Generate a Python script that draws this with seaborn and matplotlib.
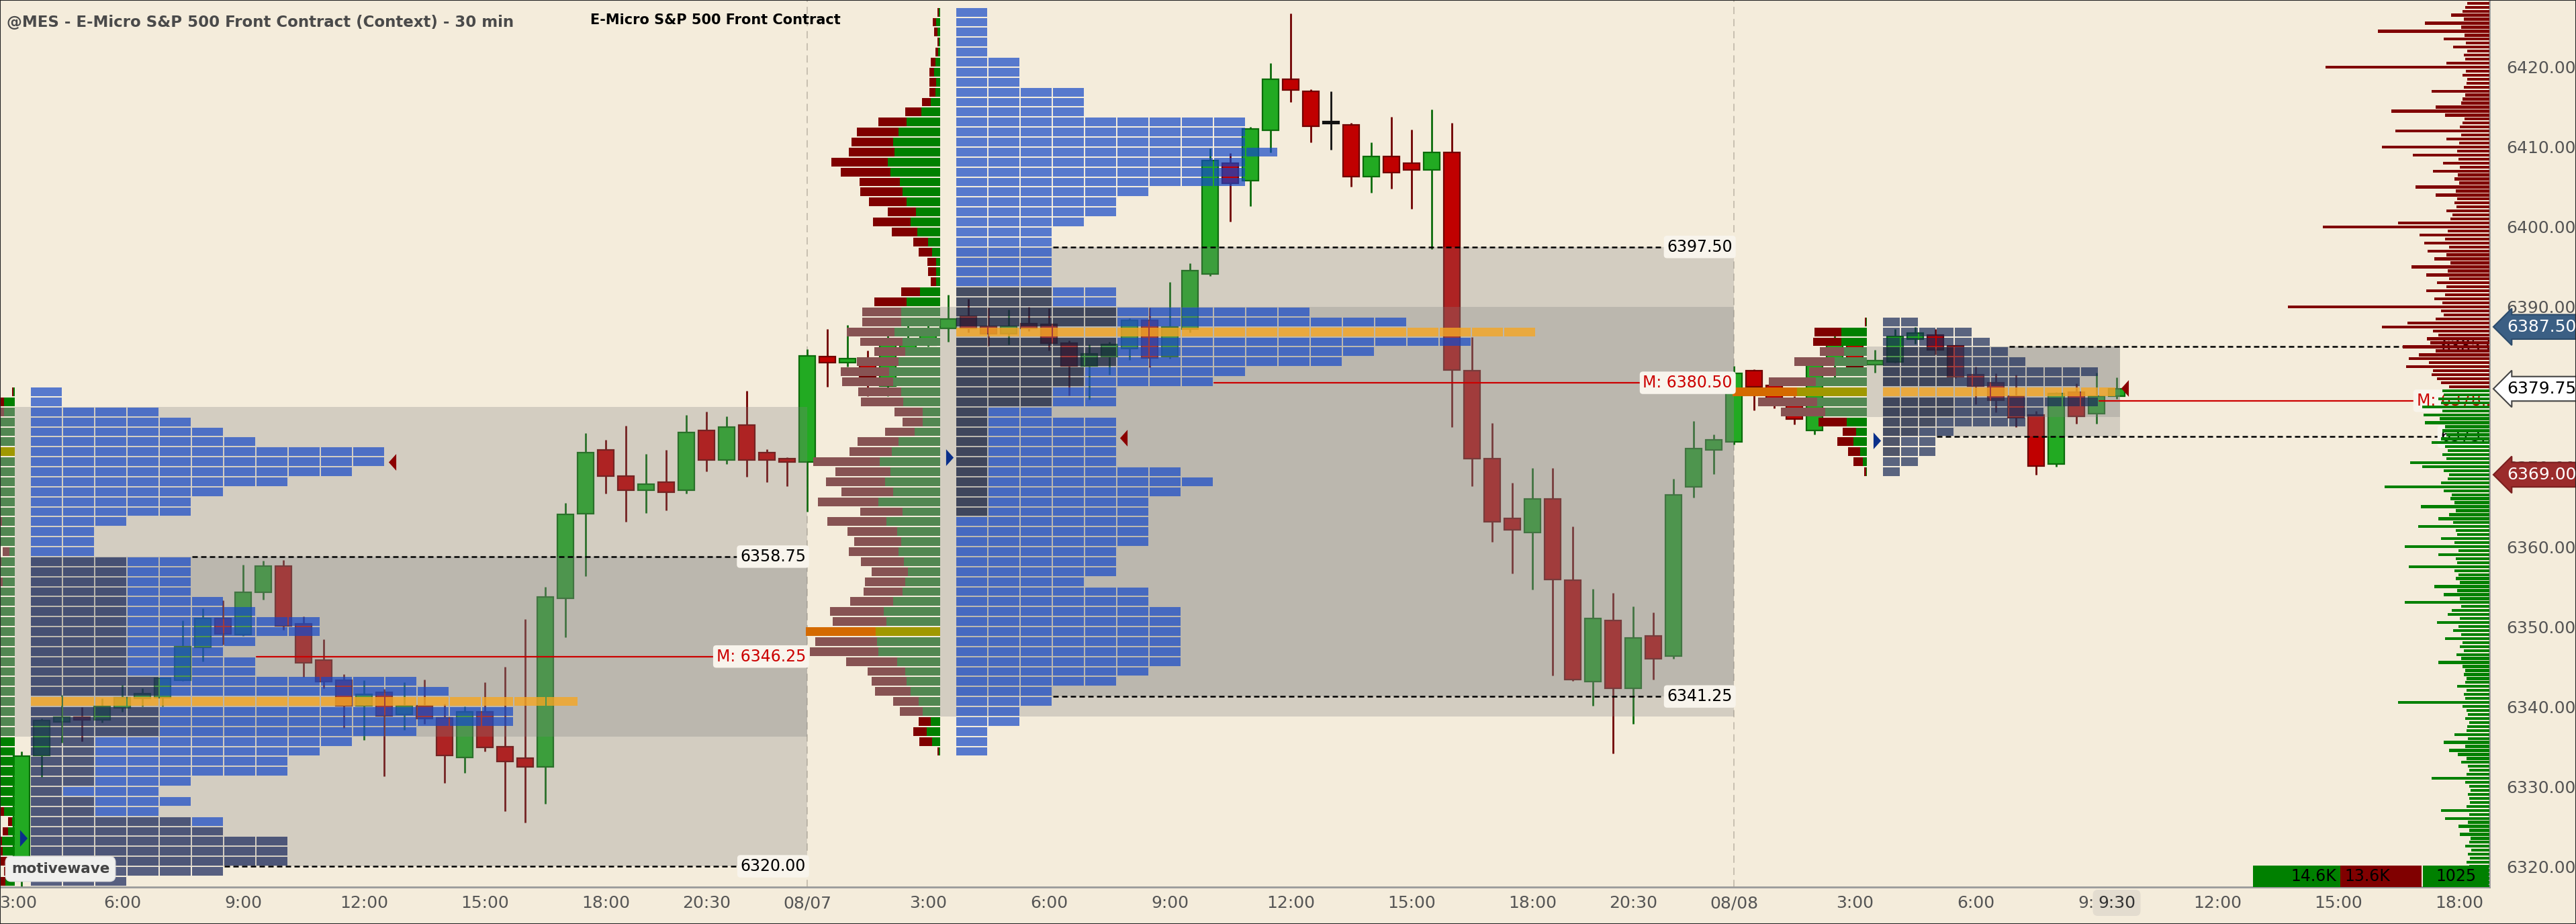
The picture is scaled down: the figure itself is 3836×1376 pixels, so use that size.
import numpy as np
import pandas as pd
import seaborn as sns
import matplotlib.pyplot as plt
from matplotlib.colors import to_rgba
from matplotlib.path import Path
from matplotlib.patches import Rectangle
from matplotlib.transforms import blended_transform_factory, ScaledTranslation

# ---------------- data ----------------
# 30 min candles, bar 0 = 08/07 00:00, first visible bar = -39
first_bar = -39
opens = [6318.5, 6333.9, 6338.1, 6338.7, 6338.3, 6339.8, 6341.0, 6341.1, 6343.3, 6347.4,
         6351.0, 6349.0, 6354.3, 6357.6, 6350.3, 6345.8, 6343.3, 6340.1, 6341.8, 6339.0,
         6340.1, 6338.6, 6333.6, 6339.3, 6335.0, 6333.5, 6332.4, 6353.5, 6364.1, 6372.1,
         6368.8, 6367.1, 6368.1, 6367.1, 6374.5, 6370.8, 6375.2, 6371.8, 6371.0,
         6370.6, 6383.8, 6383.0, 6382.8, 6380.1, 6384.8, 6385.2, 6387.3, 6388.8, 6387.6,
         6386.6, 6387.9, 6387.8, 6385.5, 6382.6, 6383.8, 6384.8, 6388.3, 6383.8, 6387.2,
         6394.1, 6408.0, 6405.8, 6412.1, 6418.5, 6417.0, 6412.9, 6412.8, 6406.3, 6408.8,
         6408.0, 6407.1, 6409.3, 6382.0, 6371.0, 6363.5, 6361.8, 6366.0, 6355.8, 6343.1,
         6350.8, 6342.3, 6348.8, 6346.3, 6367.5, 6372.1, 6373.1, 6382.0, 6380.2, 6378.3,
         6374.5, 6382.8, 6385.2, 6382.8, 6383.1, 6386.0, 6386.5, 6385.1, 6381.5, 6380.5,
         6378.8, 6376.5, 6370.3, 6379.3, 6376.6, 6378.8]
highs = [6334.4, 6338.5, 6341.4, 6339.9, 6341.0, 6342.7, 6342.3, 6343.6, 6350.8, 6352.3,
         6353.3, 6357.7, 6358.2, 6358.3, 6351.3, 6348.4, 6344.0, 6343.3, 6342.2, 6343.0,
         6343.4, 6340.3, 6340.0, 6343.0, 6345.0, 6350.9, 6355.0, 6365.5, 6374.2, 6373.4,
         6375.1, 6371.6, 6372.1, 6376.5, 6376.9, 6376.3, 6379.5, 6372.2, 6371.2,
         6384.7, 6387.2, 6387.7, 6384.5, 6386.6, 6387.8, 6387.8, 6391.5, 6391.0, 6389.9,
         6389.7, 6390.0, 6389.8, 6385.8, 6385.3, 6385.6, 6388.6, 6389.9, 6393.1, 6395.5,
         6409.8, 6409.2, 6412.5, 6420.5, 6426.7, 6417.2, 6417.0, 6413.0, 6410.6, 6413.8,
         6412.2, 6414.7, 6413.0, 6386.2, 6375.5, 6368.0, 6369.8, 6369.8, 6362.5, 6354.7,
         6354.2, 6352.5, 6351.8, 6368.5, 6375.7, 6374.0, 6382.6, 6382.2, 6380.8, 6378.8,
         6383.0, 6386.5, 6386.0, 6384.6, 6387.2, 6387.5, 6387.2, 6385.2, 6382.5, 6381.7,
         6381.5, 6377.0, 6379.3, 6380.4, 6381.8, 6381.2]
lows = [6317.0, 6331.2, 6335.5, 6335.6, 6338.0, 6339.3, 6340.0, 6340.0, 6343.2, 6345.6,
        6347.7, 6348.8, 6353.4, 6349.6, 6343.7, 6342.3, 6337.3, 6335.8, 6331.3, 6337.1,
        6337.8, 6330.4, 6331.7, 6334.4, 6326.9, 6325.5, 6327.8, 6348.7, 6356.3, 6366.6,
        6363.1, 6364.2, 6364.5, 6366.6, 6369.4, 6370.3, 6368.7, 6368.1, 6367.6,
        6364.4, 6380.0, 6382.5, 6378.8, 6378.8, 6384.5, 6385.0, 6385.6, 6386.8, 6385.1,
        6385.3, 6387.0, 6384.5, 6378.9, 6378.4, 6381.5, 6383.4, 6382.4, 6383.5, 6386.8,
        6393.9, 6400.7, 6402.6, 6409.3, 6415.6, 6410.6, 6409.7, 6405.0, 6404.3, 6404.8,
        6402.3, 6397.2, 6375.0, 6367.6, 6360.6, 6356.6, 6354.6, 6343.9, 6343.2, 6340.1,
        6334.1, 6337.8, 6343.4, 6346.0, 6366.1, 6369.1, 6372.8, 6377.1, 6377.3, 6375.3,
        6374.0, 6381.0, 6381.6, 6381.8, 6383.0, 6385.4, 6384.0, 6381.1, 6377.8, 6376.8,
        6375.0, 6369.0, 6370.0, 6375.4, 6375.4, 6378.5]
closes = [6333.8, 6338.25, 6338.7, 6338.3, 6340.0, 6341.1, 6341.6, 6343.5, 6347.5, 6351.0,
          6349.1, 6354.3, 6357.6, 6350.1, 6345.5, 6343.1, 6340.1, 6341.5, 6338.8, 6340.1,
          6338.5, 6333.9, 6339.3, 6334.9, 6333.1, 6332.4, 6353.7, 6364.0, 6371.8, 6368.8,
          6367.1, 6367.8, 6366.8, 6374.3, 6370.8, 6375.0, 6370.8, 6370.8, 6370.6,
          6383.9, 6383.0, 6383.5, 6381.3, 6385.3, 6385.3, 6386.5, 6388.5, 6387.3, 6386.6,
          6387.6, 6387.3, 6385.5, 6382.6, 6384.1, 6385.3, 6388.3, 6383.6, 6387.5, 6394.5,
          6408.3, 6405.5, 6412.3, 6418.5, 6417.1, 6412.6, 6412.9, 6406.3, 6408.8, 6406.8,
          6407.1, 6409.3, 6382.1, 6371.0, 6363.1, 6362.1, 6366.0, 6355.9, 6343.4, 6351.0,
          6342.3, 6348.6, 6346.0, 6366.5, 6372.3, 6373.4, 6381.7, 6380.0, 6378.0, 6376.0,
          6382.8, 6385.5, 6382.5, 6383.3, 6386.3, 6386.7, 6384.6, 6381.3, 6380.1, 6378.3,
          6376.1, 6370.1, 6379.2, 6376.3, 6378.8, 6379.75]

session_starts = [0, 46]

tick_pos = [-40, -34, -28, -22, -16, -10, -5, 0, 6, 12, 18, 24, 30, 36, 41, 46,
            52, 58, 64, 70, 76, 82]
tick_lab = ['3:00', '6:00', '9:00', '12:00', '15:00', '18:00', '20:30', '08/07',
            '3:00', '6:00', '9:00', '12:00', '15:00', '18:00', '20:30', '08/08',
            '3:00', '6:00', '9:00', '12:00', '15:00', '18:00']
now_pos, now_lab = 65, '9:30'

# session 1 (08/06) profile, rows of 1.25 pts from the top price down
s1_top = 6380.0
s1_tpo = [1, 1, 4, 5, 6, 7, 11, 11, 10, 8, 6, 5, 5, 3, 2, 2, 2, 5, 5, 5,
          5, 6, 7, 9, 9, 7, 6, 7, 7, 12, 13, 17, 15, 15, 12, 10, 9, 8, 8, 5,
          4, 5, 4, 6, 6, 8, 8, 8, 6, 3, 3]
s1_dark = [0, 0, 0, 0, 0, 0, 0, 0, 0, 0, 0, 0, 0, 0, 0, 0, 0, 3, 3, 3,
           3, 3, 3, 3, 3, 3, 3, 3, 3, 4, 4, 0, 4, 4, 4, 2, 2, 2, 2, 2,
           1, 2, 2, 5, 6, 8, 8, 8, 6, 3, 3]
s1_buy = [2, 16, 16, 40, 40, 40, 40, 40, 40, 40, 40, 40, 40, 19, 40, 40, 8, 20, 40, 18,
          40, 40, 40, 40, 40, 40, 40, 40, 40, 40, 40, 40, 40, 40, 40, 40, 40, 40, 40, 40,
          40, 40, 16, 4, 10, 19, 18, 12, 12, 14, 14]
s1_sell = [2, 40, 40, 30, 30, 30, 40, 30, 30, 30, 30, 30, 30, 30, 30, 30, 10, 30, 30, 30,
           30, 30, 30, 30, 30, 30, 30, 30, 30, 30, 30, 30, 30, 30, 30, 30, 30, 30, 30, 30,
           30, 30, 30, 6, 8, 20, 20, 20, 4, 20, 20]
s1_va_vol = (6336.25, 6377.5)
s1_va_tpo = (6320.0, 6358.75)
s1_mid = 6346.25

# session 2 (08/07)
s2_top = 6427.5
s2_tpo = [1, 1, 1, 1, 1, 2, 2, 2, 4, 4, 4, 9, 9, 9, 10, 9, 9, 9, 6, 5,
          5, 4, 3, 3, 3, 3, 3, 3, 5, 5, 11, 14, 18, 16, 13, 12, 9, 8, 5, 5,
          3, 5, 5, 5, 5, 5, 7, 8, 7, 6, 6, 6, 6, 6, 5, 5, 5, 4, 6, 6,
          7, 7, 7, 7, 7, 7, 6, 5, 3, 3, 2, 2, 1, 1, 1]
s2_dark = [0, 0, 0, 0, 0, 0, 0, 0, 0, 0, 0, 0, 0, 0, 0, 0, 0, 0, 0, 0,
           0, 0, 0, 0, 0, 0, 0, 0, 3, 3, 5, 5, 0, 5, 5, 5, 4, 4, 3, 3,
           1, 1, 1, 1, 1, 1, 1, 1, 1, 1, 1, 0, 0, 0, 0, 0, 0, 0, 0, 0,
           0, 0, 0, 0, 0, 0, 0, 0, 0, 0, 0, 0, 0, 0, 0]
s2_buy = [2, 6, 4, 2, 3, 7, 9, 6, 7, 14, 28, 50, 62, 70, 68, 78, 74, 60, 56, 50,
          36, 44, 34, 18, 12, 6, 6, 6, 30, 50, 58, 58, 68, 56, 52, 62, 76, 70, 58, 55,
          26, 26, 38, 62, 72, 90, 74, 82, 70, 92, 56, 80, 64, 58, 62, 54, 48, 52, 56, 70,
          84, 80, 96, 94, 92, 64, 52, 50, 44, 32, 26, 14, 20, 12, 2]
s2_sell = [2, 5, 5, 2, 4, 7, 7, 10, 9, 13, 24, 42, 62, 62, 68, 84, 74, 60, 63, 56,
           42, 56, 38, 22, 20, 13, 12, 8, 28, 48, 58, 58, 71, 63, 46, 62, 72, 76, 64, 63,
           42, 30, 44, 61, 63, 99, 82, 88, 77, 90, 63, 88, 74, 70, 74, 64, 54, 60, 58, 64,
           80, 80, 104, 92, 102, 76, 56, 52, 53, 38, 34, 18, 20, 19, 2]
s2_va_vol = (6338.75, 6390.0)
s2_va_tpo = (6341.25, 6397.5)
s2_mid = 6380.5

# session 3 (08/08)
s3_top = 6388.75
s3_tpo = [2, 5, 6, 7, 8, 12, 11, 13, 12, 9, 8, 4, 3, 3, 2, 1]
s3_dark = [0, 0, 0, 4, 4, 4, 4, 0, 4, 4, 3, 2, 1, 1, 0, 0]
s3_buy = [1, 38, 38, 34, 48, 46, 76, 104, 74, 62, 30, 16, 20, 10, 6, 1]
s3_sell = [2, 40, 42, 36, 60, 40, 70, 96, 88, 66, 42, 20, 24, 18, 14, 3]
s3_va_vol = (6376.25, 6385.0)
s3_va_tpo = (6373.75, 6385.0)
s3_mid = 6378.25

# profile markers
tri_blue_t = [-38.9, 7.07, 53.1]
tri_blue_p = [6323.5, 6371.2, 6373.3]
tri_red_t = [-20.6, 15.7, 65.4]
tri_red_p = [6370.6, 6373.6, 6379.8]

# visible range volume profile, 0.5 pt rows from 6428.0 down
vp_top = 6428.0
vp_vol = [33, 36, 40, 57, 38, 96, 42, 166, 37, 68,
          35, 54, 33, 38, 36, 64, 244, 35, 40, 33,
          34, 38, 86, 36, 40, 42, 80, 146, 66, 37,
          40, 44, 140, 42, 64, 45, 160, 48, 114, 46,
          69, 44, 84, 47, 52, 45, 110, 50, 80, 48,
          52, 49, 64, 55, 58, 136, 248, 62, 104, 66,
          97, 60, 92, 64, 82, 58, 116, 62, 94, 60,
          78, 64, 94, 66, 82, 70, 300, 72, 68, 80,
          122, 160, 84, 76, 93, 88, 129, 80, 105, 120,
          90, 124, 84, 86, 78, 72, 60, 70, 68, 76,
          72, 100, 70, 98, 74, 96, 66, 70, 64, 72,
          86, 66, 62, 70, 64, 118, 100, 68, 60, 62,
          72, 156, 68, 56, 58, 52, 102, 50, 60, 76,
          54, 106, 50, 48, 72, 52, 126, 46, 76, 50,
          48, 120, 52, 46, 50, 44, 82, 48, 68, 44,
          126, 42, 56, 62, 44, 78, 46, 54, 42, 66,
          40, 44, 38, 49, 42, 76, 40, 36, 38, 34,
          36, 48, 34, 38, 36, 136, 40, 34, 32, 36,
          30, 33, 34, 52, 32, 68, 36, 60, 47, 34,
          42, 32, 30, 34, 86, 36, 30, 28, 32, 30,
          29, 34, 72, 30, 66, 32, 46, 30, 44, 28,
          30, 36, 27, 32, 29, 34, 30, 28, 30, 26,
          28, 26]

buy_total, sell_total = 14600, 13575

# ---------------- style ----------------
BG = '#f4ecdb'
sns.set_theme(style='white')
plt.rcParams['font.family'] = ['DejaVu Sans']

W, H = 3836, 1376
AX_W, AX_H, AX_B = 3707, 1321, 55
PXB = 30.0                     # px per bar
ROW = 1.25                     # profile row size (pts)
y_lo, y_hi = 6317.4, 6428.4
PXP = AX_H / (y_hi - y_lo)      # px per point

fig = plt.figure(figsize=(W / 100, H / 100), dpi=100, facecolor=BG)
ax = fig.add_axes([0, AX_B / H, AX_W / W, AX_H / H])
ax.set_facecolor(BG)
x_lo = -1202 / PXB
x_hi = x_lo + AX_W / PXB
ax.set_xlim(x_lo, x_hi)
ax.set_ylim(y_lo, y_hi)


def bx(px):
    return x_lo + px / PXB


for s in session_starts:
    ax.axvline(s, color='#c4bcad', lw=1.3, ls=(0, (6, 4)), zorder=1)

# candles
df = pd.DataFrame({'o': opens, 'h': highs, 'l': lows, 'c': closes})
df['t'] = first_bar + np.arange(len(df))
up = df.c > df.o
dn = df.c < df.o
body_col = np.where(up, '#22aa22', np.where(dn, '#c00000', '#111111'))
edge_col = np.where(up, '#0b6b0b', np.where(dn, '#700000', '#111111'))
ax.vlines(df.t, df.l, df.h, colors=edge_col, lw=2.0, zorder=2)
bottoms = df[['o', 'c']].min(axis=1)
heights = (df.c - df.o).abs().clip(lower=0.25)
ax.bar(df.t, heights, bottom=bottoms, width=0.8, color=body_col,
       edgecolor=edge_col, linewidth=1.6, zorder=2.1)

POC_C = '#f5a623'


def draw_session(top, tpo, dark, buy, sell, va_vol, va_tpo, mid, lay):
    n = len(tpo)
    centers = top - ROW * (np.arange(n) + 0.5)
    rh = ROW - 2 / PXP
    # value area boxes
    ax.fill_between([lay['dr'], lay['end']], va_vol[0], va_vol[1],
                    color='#808080', alpha=0.28, lw=0, zorder=3)
    ax.fill_between([lay['tl'], lay['end']], va_tpo[0], va_tpo[1],
                    color='#808080', alpha=0.28, lw=0, zorder=3)
    # tpo cells
    poc = int(np.argmax(tpo))
    ys, xs, cols = [], [], []
    for i, k in enumerate(tpo):
        for c in range(k):
            ys.append(centers[i])
            xs.append(lay['tl'] + c * lay['step'])
            if i == poc:
                cols.append(to_rgba(POC_C, 0.8))
            elif c < dark[i]:
                cols.append(to_rgba(lay['dark'], 0.7))
            else:
                cols.append(to_rgba(lay['cell'], 0.7))
    ax.barh(ys, lay['step'] - 2 / PXB, left=xs, height=rh, color=cols,
            lw=0, align='center', zorder=4)
    # buy / sell profile
    b = np.array(buy) / PXB
    s = np.array(sell) / PXB
    inside = (centers > va_vol[0]) & (centers < va_vol[1])
    gcol = np.where(inside, '#528752', '#008000').astype(object)
    rcol = np.where(inside, '#875353', '#800000').astype(object)
    dpoc = int(np.argmax(b + s))
    gcol[dpoc] = '#a09800'
    rcol[dpoc] = '#d46a00'
    ax.barh(centers, b, left=lay['dr'] - b, height=rh, color=list(gcol), lw=0, zorder=5)
    ax.barh(centers, s, left=lay['dr'] - b - s, height=rh, color=list(rcol), lw=0, zorder=5)

    def row_end(p):
        i = int((top - p) / ROW + 1e-6)
        return lay['tl'] + tpo[i] * lay['step']

    lab_box = dict(boxstyle='round,pad=0.2', fc='#f8f4ec', ec='none')
    for p in va_tpo:
        ax.plot([row_end(p), lay['lx'] - 1.5], [p, p], color='black', lw=1.8,
                ls=(0, (3.2, 2)), zorder=6)
        ax.text(lay['lx'], p, f'{p:.2f}', ha='right', va='center', fontsize=17,
                color='black', bbox=lab_box, zorder=7, clip_on=True)
    ax.plot([row_end(mid), lay['lx'] - 1.5], [mid, mid], color='#cc0000', lw=1.6, zorder=6)
    ax.text(lay['lx'], mid, f'M: {mid:.2f}', ha='right', va='center', fontsize=17,
            color='#cc0000', bbox=lab_box, zorder=7, clip_on=True)


draw_session(s1_top, s1_tpo, s1_dark, s1_buy, s1_sell, s1_va_vol, s1_va_tpo, s1_mid,
             dict(dr=bx(22), tl=bx(45.6), step=1.6, end=0, lx=bx(1200),
                  cell='#1448c8', dark='#14245a'))
draw_session(s2_top, s2_tpo, s2_dark, s2_buy, s2_sell, s2_va_vol, s2_va_tpo, s2_mid,
             dict(dr=bx(1400), tl=bx(1424), step=1.6, end=46, lx=bx(2580),
                  cell='#1448c8', dark='#0a173a'))
draw_session(s3_top, s3_tpo, s3_dark, s3_buy, s3_sell, s3_va_vol, s3_va_tpo, s3_mid,
             dict(dr=bx(2780), tl=bx(2804), step=26.8 / PXB, end=bx(3157), lx=bx(3732),
                  cell='#192b59', dark='#0a173a'))

# triangles
tri_r = Path([(-0.45, 1), (0.45, 0), (-0.45, -1), (-0.45, 1)],
             [Path.MOVETO, Path.LINETO, Path.LINETO, Path.CLOSEPOLY])
tri_l = Path([(0.45, 1), (-0.45, 0), (0.45, -1), (0.45, 1)],
             [Path.MOVETO, Path.LINETO, Path.LINETO, Path.CLOSEPOLY])
sns.scatterplot(x=tri_blue_t, y=tri_blue_p, marker=tri_r, s=320, color='#0a2f8a',
                linewidth=0, ax=ax, zorder=7, legend=False)
sns.scatterplot(x=tri_red_t, y=tri_red_p, marker=tri_l, s=320, color='#8b0000',
                linewidth=0, ax=ax, zorder=7, legend=False)

# right side volume profile
last = closes[-1]
vp = np.array(vp_vol, dtype=float)
vp_p = vp_top - 0.5 * np.arange(len(vp))
vp_w = vp / PXB
vp_c = np.where(vp_p > last, '#800000', '#008000')
ax.barh(vp_p, vp_w, left=x_hi - vp_w, height=0.36, color=vp_c, lw=0, zorder=8)

# buy / sell / delta summary boxes
sc = 130.0 / buy_total
yb = y_lo + 2.7 / 2
hb = 2.7
red_end = bx(3606)
ax.barh([yb], [sell_total * sc / PXB], left=red_end - sell_total * sc / PXB, height=hb,
        color='#800000', lw=0, zorder=9)
ax.barh([yb], [buy_total * sc / PXB], left=red_end - (sell_total + buy_total) * sc / PXB,
        height=hb, color='#008000', lw=0, zorder=9)
ax.barh([yb], [bx(3706) - bx(3608)], left=bx(3608), height=hb, color='#008000', lw=0, zorder=9)
ax.text(red_end - sell_total * sc / PXB - 0.2, yb, f'{buy_total / 1000:.1f}K', ha='right',
        va='center', fontsize=17, color='black', zorder=10)
ax.text(red_end - sell_total * sc / PXB + 0.2, yb, f'{sell_total / 1000:.1f}K', ha='left',
        va='center', fontsize=17, color='black', zorder=10)
ax.text((bx(3608) + bx(3706)) / 2, yb, f'{buy_total - sell_total}', ha='center',
        va='center', fontsize=17, color='black', zorder=10)

# axes styling
ax.set_xticks(tick_pos)
ax.set_xticklabels(tick_lab)
yt = np.arange(6320, 6421, 10)
ax.set_yticks(yt)
ax.set_yticklabels([f'{v:.2f}' for v in yt])
ax.yaxis.tick_right()
ax.tick_params(axis='x', length=0, pad=9, labelsize=18, labelcolor='#555555')
ax.tick_params(axis='y', length=0, pad=18, labelsize=18, labelcolor='#555555')
# first label is pushed in from the left edge, as the chart does
first_lab = ax.get_xticklabels()[0]
first_lab.set_transform(first_lab.get_transform() + ScaledTranslation(0.25, 0, fig.dpi_scale_trans))
for side in ['top', 'left']:
    ax.spines[side].set_visible(False)
for side in ['right', 'bottom']:
    ax.spines[side].set_color('#9a9a9a')
    ax.spines[side].set_linewidth(2)
ax.grid(False)

tx = blended_transform_factory(ax.transData, ax.transAxes)
ax.text(now_pos, -23.5 / AX_H, now_lab, transform=tx, ha='center', va='center',
        fontsize=18, color='#333333', zorder=12, clip_on=False,
        bbox=dict(boxstyle='round,pad=0.3', fc='#e3dccf', ec='none'))

# price tags
ty = blended_transform_factory(ax.transAxes, ax.transData)
s3_mask = df.t >= session_starts[1]
tags = [(df.h[s3_mask].max(), '#3b5f84', '#2c4b6b', 'white'),
        (last, 'white', '#444444', 'black'),
        (df.l[s3_mask].min(), '#9b2c2c', '#7a1f1f', 'white')]
for price, fc, ec, tc in tags:
    ax.text(1 + 26 / AX_W, price, f'{price:.2f}', transform=ty, ha='left', va='center',
            fontsize=18, color=tc, clip_on=False, zorder=12,
            bbox=dict(boxstyle='larrow,pad=0.25', fc=fc, ec=ec, lw=1.5))

# titles and watermark
fig.text(10 / W, 1 - 33 / H, '@MES - E-Micro S&P 500 Front Contract (Context) - 30 min',
         fontsize=16.5, fontweight='bold', color='#4a4a4a', ha='left', va='center')
fig.text(879 / W, 1 - 30 / H, 'E-Micro S&P 500 Front Contract', fontsize=15,
         fontweight='bold', color='black', ha='left', va='center')
ax.text(90 / AX_W, 27 / AX_H, 'motivewave', transform=ax.transAxes, ha='center',
        va='center', fontsize=15.5, fontweight='bold', color='#444444', zorder=11,
        bbox=dict(boxstyle='round,pad=0.4', fc='#f0f0ee', ec='#dddddd'))

fig.patches.append(Rectangle((0, 0), 1, 1, transform=fig.transFigure, fill=False,
                             ec='#222222', lw=1.5))

fig.savefig('out.png', dpi=100, facecolor=BG)
